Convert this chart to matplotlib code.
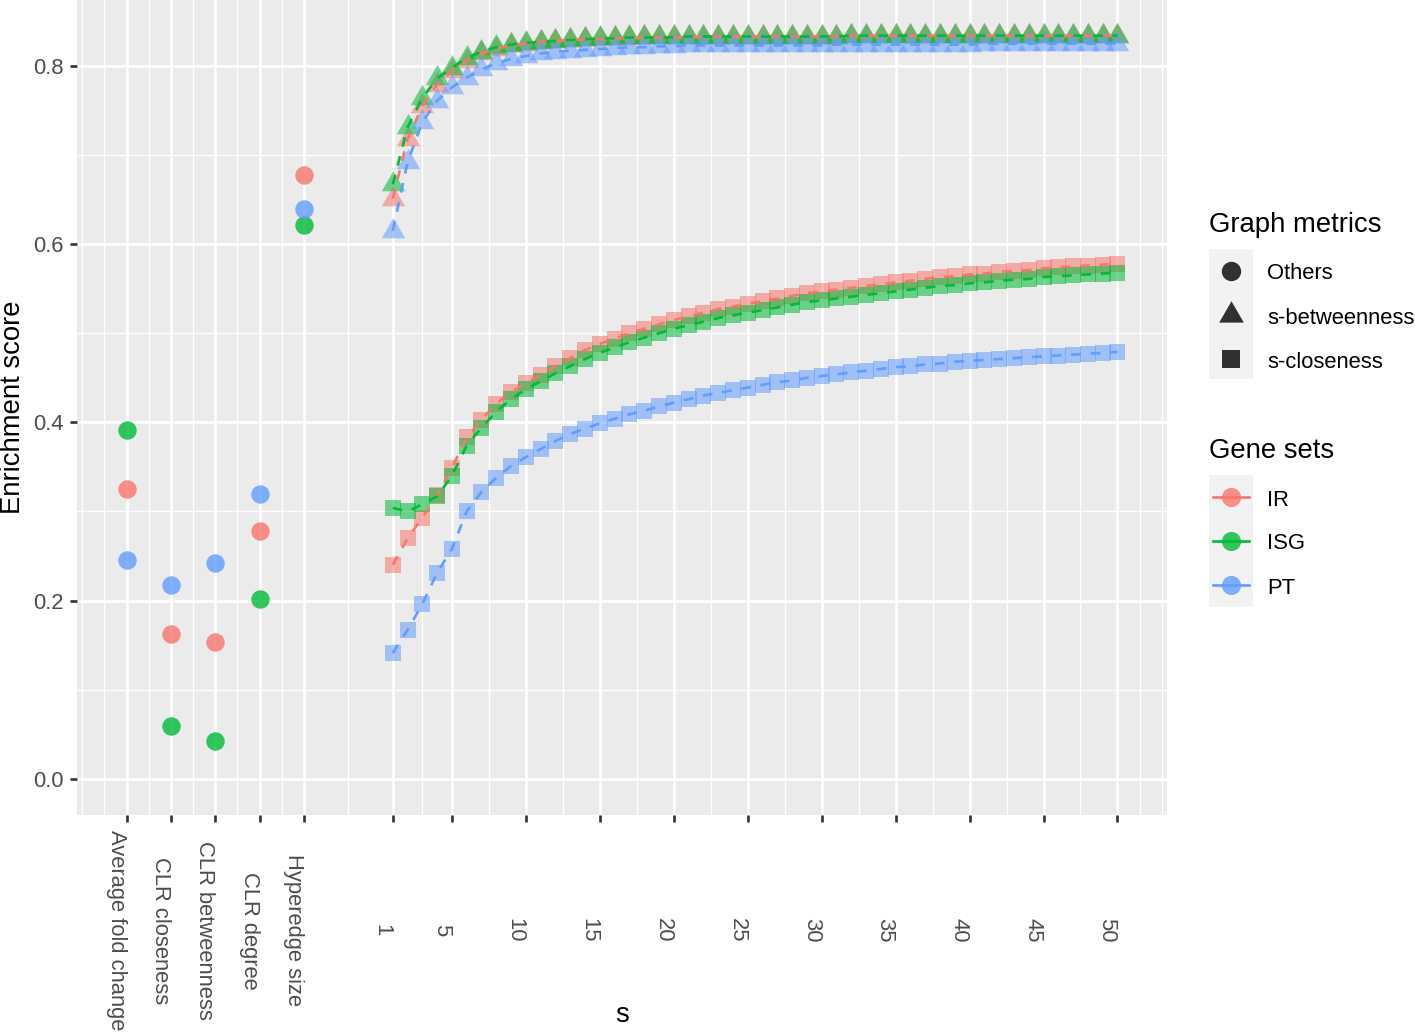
import numpy as np
import matplotlib
matplotlib.use("Agg")
from matplotlib import pyplot as plt
from matplotlib.lines import Line2D
from matplotlib.patches import Rectangle

plt.rcParams['font.family'] = ['Liberation Sans', 'DejaVu Sans']

# Values
categories = ["Average fold change", "CLR closeness", "CLR betweenness",
              "CLR degree", "Hyperedge size"]
gene_sets = ["IR", "ISG", "PT"]
metrics = ["Others", "s-betweenness", "s-closeness"]
colors = {"IR": "#F8766D", "ISG": "#00BA38", "PT": "#619CFF"}

others = {
    "IR":  [0.325, 0.162, 0.153, 0.2775, 0.6775],
    "ISG": [0.391, 0.059, 0.042, 0.2015, 0.622],
    "PT":  [0.245, 0.217, 0.242, 0.3195, 0.639],
}

s = np.arange(1, 51)

betw_IR = [0.651, 0.718, 0.755, 0.779, 0.794, 0.806, 0.814, 0.819, 0.823, 0.825,
           0.827, 0.828, 0.829, 0.830, 0.830, 0.831, 0.831, 0.832, 0.832, 0.832,
           0.832, 0.833, 0.833, 0.833, 0.833, 0.833, 0.833, 0.833, 0.833, 0.833,
           0.833, 0.834, 0.834, 0.834, 0.834, 0.834, 0.834, 0.834, 0.834, 0.834,
           0.834, 0.834, 0.834, 0.834, 0.834, 0.834, 0.834, 0.834, 0.834, 0.834]
betw_ISG = [0.667, 0.731, 0.764, 0.786, 0.798, 0.809, 0.816, 0.821, 0.824, 0.826,
            0.827, 0.828, 0.829, 0.830, 0.831, 0.831, 0.832, 0.832, 0.832, 0.832,
            0.833, 0.833, 0.833, 0.833, 0.833, 0.833, 0.833, 0.833, 0.833, 0.833,
            0.833, 0.834, 0.834, 0.834, 0.834, 0.834, 0.834, 0.834, 0.834, 0.834,
            0.834, 0.834, 0.834, 0.834, 0.834, 0.834, 0.834, 0.834, 0.834, 0.834]
betw_PT = [0.615, 0.692, 0.737, 0.761, 0.776, 0.787, 0.796, 0.803, 0.808, 0.811,
           0.814, 0.816, 0.817, 0.818, 0.819, 0.820, 0.821, 0.821, 0.822, 0.822,
           0.823, 0.823, 0.823, 0.823, 0.823, 0.823, 0.823, 0.823, 0.823, 0.823,
           0.824, 0.824, 0.824, 0.824, 0.824, 0.824, 0.824, 0.824, 0.824, 0.824,
           0.825, 0.825, 0.825, 0.825, 0.825, 0.825, 0.825, 0.825, 0.825, 0.825]

clos_IR = [0.240, 0.270, 0.293, 0.318, 0.349, 0.383, 0.403, 0.421, 0.434, 0.444,
           0.453, 0.463, 0.472, 0.481, 0.488, 0.494, 0.500, 0.505, 0.510, 0.515,
           0.519, 0.523, 0.527, 0.530, 0.533, 0.536, 0.539, 0.542, 0.545, 0.547,
           0.549, 0.551, 0.553, 0.555, 0.557, 0.559, 0.561, 0.563, 0.564, 0.566,
           0.567, 0.569, 0.570, 0.571, 0.573, 0.574, 0.575, 0.576, 0.577, 0.578]
clos_ISG = [0.304, 0.300, 0.308, 0.317, 0.340, 0.374, 0.394, 0.412, 0.426, 0.437,
            0.446, 0.455, 0.463, 0.471, 0.478, 0.484, 0.490, 0.495, 0.500, 0.505,
            0.509, 0.513, 0.517, 0.520, 0.523, 0.526, 0.529, 0.532, 0.535, 0.537,
            0.539, 0.541, 0.543, 0.545, 0.547, 0.549, 0.551, 0.553, 0.554, 0.556,
            0.557, 0.559, 0.560, 0.561, 0.563, 0.564, 0.565, 0.566, 0.567, 0.568]
clos_PT = [0.141, 0.167, 0.196, 0.231, 0.258, 0.300, 0.322, 0.338, 0.351, 0.361,
           0.370, 0.379, 0.387, 0.393, 0.399, 0.404, 0.409, 0.413, 0.418, 0.422,
           0.426, 0.430, 0.433, 0.436, 0.439, 0.442, 0.445, 0.447, 0.450, 0.452,
           0.454, 0.456, 0.458, 0.460, 0.462, 0.463, 0.465, 0.466, 0.468, 0.469,
           0.470, 0.471, 0.472, 0.473, 0.474, 0.475, 0.476, 0.477, 0.478, 0.479]

betweenness = {"IR": betw_IR, "ISG": betw_ISG, "PT": betw_PT}
closeness = {"IR": clos_IR, "ISG": clos_ISG, "PT": clos_PT}

s_ticks = [1, 5, 10, 15, 20, 25, 30, 35, 40, 45, 50]

# categories sit to the left of s = 1, three units apart
cat_x = -17 + 3 * np.arange(len(categories))

# ggplot-ish sizes
W, H = 1415, 1032
TXT = 15.8
TTL = 19.8
tri = [(0, 1), (-0.866, -0.5), (0.866, -0.5)]
marker_of = {"Others": "o", "s-betweenness": tri, "s-closeness": "s"}
size_of = {"Others": 13.3, "s-betweenness": 19.5, "s-closeness": 12.2}

fig = plt.figure(figsize=(W / 100, H / 100), dpi=100)
ax = fig.add_axes([77 / W, 1 - 815 / H, 1090 / W, 815 / H])
ax.set_facecolor("#EBEBEB")
for sp in ax.spines.values():
    sp.set_visible(False)

# points
for g in gene_sets:
    ax.plot(cat_x, others[g], ls="none", marker="o", ms=size_of["Others"],
            mew=0, color=colors[g], alpha=0.8)
for g in gene_sets:
    ax.plot(s, betweenness[g], ls="none", marker=tri, ms=size_of["s-betweenness"],
            mew=0, color=colors[g], alpha=0.55)
    ax.plot(s, closeness[g], ls="none", marker="s", ms=size_of["s-closeness"],
            mew=0, color=colors[g], alpha=0.55)

# dashed lines on top
for g in gene_sets:
    ax.plot(s, betweenness[g], color=colors[g], lw=1.9, ls=(0, (3.7, 3.7)),
            dash_capstyle="butt")
    ax.plot(s, closeness[g], color=colors[g], lw=1.9, ls=(0, (3.7, 3.7)),
            dash_capstyle="butt")

ax.set_xlim(-20.35, 53.35)
ax.set_ylim(-0.0407, 0.874)

xt = list(cat_x) + s_ticks
xl = categories + [str(v) for v in s_ticks]
ax.set_xticks(xt)
ax.set_xticklabels(xl)
x_minor = [-20, -18.5, -15.5, -12.5, -9.5, -6.5, -2, 3, 7.5] + \
          [v + 2.5 for v in s_ticks[1:-1]] + [51.5, 53]
ax.set_xticks(x_minor, minor=True)
ax.set_yticks([0.0, 0.2, 0.4, 0.6, 0.8])
ax.set_yticklabels(["0.0", "0.2", "0.4", "0.6", "0.8"])
ax.set_yticks([0.1, 0.3, 0.5, 0.7], minor=True)

ax.grid(which="major", color="white", lw=1.92)
ax.grid(which="minor", color="white", lw=0.96)
ax.set_axisbelow(True)

ax.tick_params(which="major", length=4.95, width=1.92, color="#333333",
               labelcolor="#4D4D4D", labelsize=TXT)
ax.tick_params(which="minor", length=0)
ax.tick_params(axis="y", pad=4.8)
ax.tick_params(axis="x", pad=78.2)
plt.setp(ax.get_xticklabels(), rotation=270, ha="right", va="center")

ax.set_ylabel("Enrichment score", fontsize=TTL, va="center")
ax.yaxis.set_label_coords((13 - 77) / 1090, 0.5)
ax.set_xlabel("s", fontsize=TTL, va="baseline")
ax.xaxis.set_label_coords(0.5, (815 - 1022.5) / 815)


# legends drawn by hand in figure pixels (from top-left)
def fx(x):
    return x / W


def fy(y):
    return 1 - y / H


def legend_block(title, baseline, bg_top, bg_bot, rows, labels, draw_key):
    fig.text(fx(1209), fy(baseline), title, fontsize=TTL, va="baseline", ha="left")
    fig.add_artist(Rectangle((fx(1209), fy(bg_bot)), 44 / W, (bg_bot - bg_top) / H,
                             transform=fig.transFigure, color="#F2F2F2", lw=0,
                             zorder=1))
    for y, lab in zip(rows, labels):
        draw_key(y, lab)
        fig.text(fx(1267), fy(y + 8.8), lab, fontsize=TXT, va="baseline", ha="left")


def metric_key(y, lab):
    fig.add_artist(Line2D([fx(1231)], [fy(y)], transform=fig.transFigure,
                          marker=marker_of[lab], ms=size_of[lab] * 1.05, mew=0,
                          color="black", alpha=0.8, ls="none", zorder=2))


def gene_key(y, lab):
    fig.add_artist(Line2D([fx(1213), fx(1249)], [fy(y), fy(y)],
                          transform=fig.transFigure, color=colors[lab], lw=1.9,
                          zorder=2))
    fig.add_artist(Line2D([fx(1231)], [fy(y)], transform=fig.transFigure,
                          marker="o", ms=13.8, mew=0, color=colors[lab],
                          alpha=0.8, ls="none", zorder=3))


legend_block("Graph metrics", 231.5, 249, 379, [270.5, 315, 358.7], metrics,
             metric_key)
legend_block("Gene sets", 458, 475, 607, [497, 540.5, 585], gene_sets, gene_key)

fig.savefig("out.png", dpi=100)
